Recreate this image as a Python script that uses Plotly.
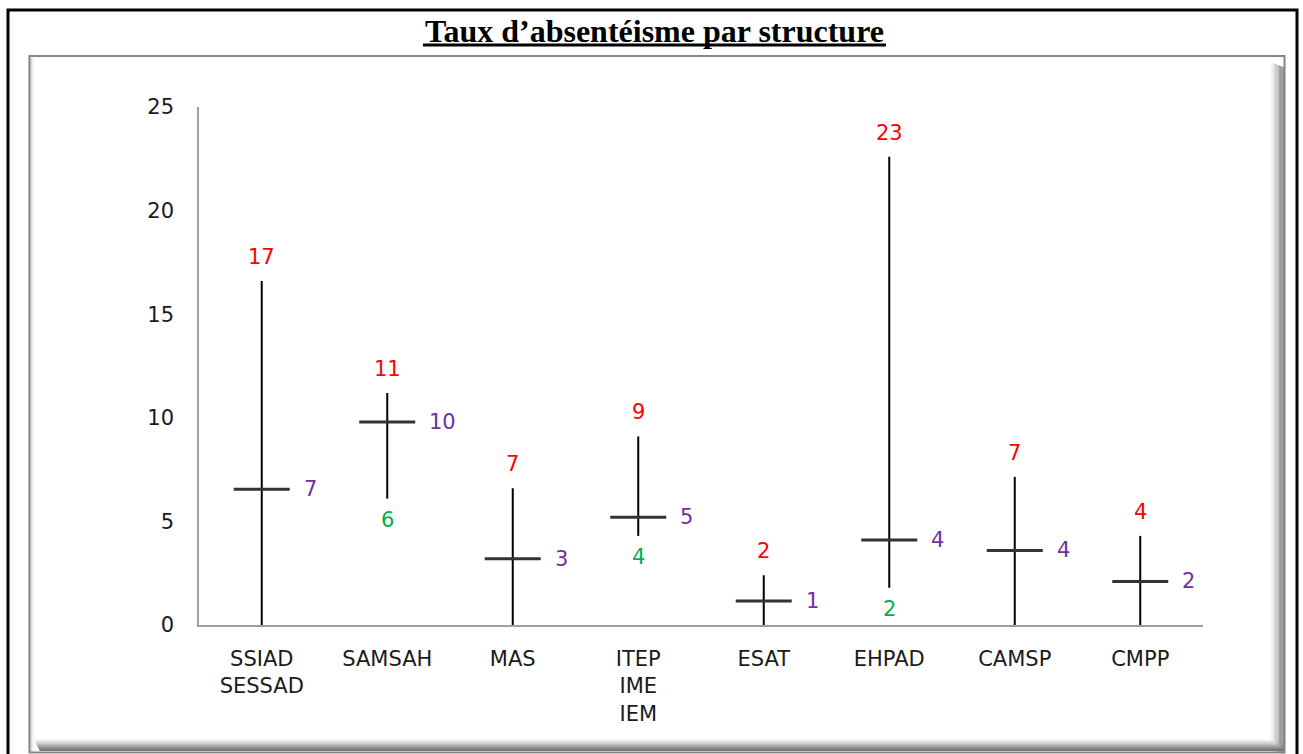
import plotly.graph_objects as go

# ---- data ----
categories = ["SSIAD<br>SESSAD", "SAMSAH", "MAS", "ITEP<br>IME<br>IEM",
              "ESAT", "EHPAD", "CAMSP", "CMPP"]
high_vals = [16.6, 11.2, 6.6, 9.1, 2.4, 22.6, 7.15, 4.3]
low_vals = [0, 6.1, 0, 4.3, 0, 1.8, 0, 0]
mean_vals = [6.55, 9.8, 3.2, 5.2, 1.16, 4.1, 3.6, 2.1]
y_ticks = [0, 5, 10, 15, 20, 25]
title_text = "Taux d’absentéisme par structure"

W, H = 1303, 754
L, R, T, B = 199, 1203, 107, 625  # plot area in pixels

def px(x):
    return (x - L) / (R - L)

def py(y):
    return (B - y) / (B - T)

FONT = "DejaVu Sans"
FS = 21
xs = list(range(len(categories)))

fig = go.Figure()

# vertical high-low lines
lx, ly = [], []
for i in xs:
    lx += [i, i, None]
    ly += [low_vals[i], high_vals[i], None]
fig.add_trace(go.Scatter(x=lx, y=ly, mode="lines",
                         line=dict(color="#000000", width=2),
                         hoverinfo="skip", showlegend=False, cliponaxis=False))

# mean ticks
fig.add_trace(go.Scatter(x=xs, y=mean_vals, mode="markers",
                         marker=dict(symbol="line-ew", size=40,
                                     line=dict(color="#333333", width=3)),
                         showlegend=False, cliponaxis=False))

annotations = []
for i in xs:
    annotations.append(dict(x=i, y=high_vals[i], xref="x", yref="y",
                            text=str(round(high_vals[i])), showarrow=False,
                            yanchor="middle", yshift=24,
                            font=dict(family=FONT, size=FS, color="#ff0000")))
    annotations.append(dict(x=i, y=mean_vals[i], xref="x", yref="y",
                            text=str(round(mean_vals[i])), showarrow=False,
                            xanchor="left", yanchor="middle", xshift=40,
                            font=dict(family=FONT, size=FS, color="#7030a0")))
    if low_vals[i] > 0:
        annotations.append(dict(x=i, y=low_vals[i], xref="x", yref="y",
                                text=str(round(low_vals[i])), showarrow=False,
                                yanchor="middle", yshift=-21,
                                font=dict(family=FONT, size=FS, color="#00b050")))

# title
annotations.append(dict(x=px(654), y=py(31), xref="paper", yref="paper",
                        xanchor="center", yanchor="middle",
                        text="<b>" + title_text + "</b>", showarrow=False,
                        font=dict(family="Liberation Serif", size=32, color="#000000")))

shapes = []
# outer black frame
shapes.append(dict(type="rect", xref="paper", yref="paper",
                   x0=px(8), x1=px(1297), y0=py(770), y1=py(10),
                   line=dict(color="#000000", width=3), layer="below"))
# title underline
shapes.append(dict(type="line", xref="paper", yref="paper",
                   x0=px(423), x1=px(886), y0=py(45), y1=py(45),
                   line=dict(color="#000000", width=3)))
# bevel panel gradient strips (right and bottom)
grads = ["#fafafa", "#f2f2f2", "#e8e8e8", "#dcdcdc", "#cfcfcf", "#c2c2c2",
         "#b4b4b4", "#a6a6a6", "#999999", "#8c8c8c", "#808080", "#767676"]
for k, c in enumerate(grads):
    shapes.append(dict(type="rect", xref="paper", yref="paper",
                       x0=px(1270 + k * 1.25), x1=px(1271.3 + k * 1.25),
                       y0=py(752), y1=py(62 + k * 0.5),
                       fillcolor=c, line=dict(width=0), layer="below"))
    shapes.append(dict(type="rect", xref="paper", yref="paper",
                       x0=px(34 + k * 0.5), x1=px(1284),
                       y0=py(740 + k * 1.0), y1=py(738.8 + k * 1.0),
                       fillcolor=c, line=dict(width=0), layer="below"))
# left light bevel
for k, c in enumerate(["#c8c8c8", "#dcdcdc", "#ececec", "#f6f6f6"]):
    shapes.append(dict(type="rect", xref="paper", yref="paper",
                       x0=px(30.5 + k), x1=px(31.5 + k), y0=py(752), y1=py(58),
                       fillcolor=c, line=dict(width=0), layer="below"))
# panel border
shapes.append(dict(type="rect", xref="paper", yref="paper",
                   x0=px(29.5), x1=px(1284.5), y0=py(752.5), y1=py(56),
                   line=dict(color="#858585", width=2), layer="below"))

fig.update_layout(
    width=W, height=H,
    margin=dict(l=L, r=W - R, t=T, b=H - B, pad=0),
    paper_bgcolor="#ffffff", plot_bgcolor="rgba(0,0,0,0)",
    showlegend=False,
    annotations=annotations, shapes=shapes,
    xaxis=dict(range=[-0.5, len(categories) - 0.5], tickmode="array",
               tickvals=xs, ticktext=categories, showgrid=False, zeroline=False,
               showline=True, linecolor="#a0a0a0", linewidth=1.5, ticks="",
               ticklabelstandoff=14,
               tickfont=dict(family=FONT, size=FS, color="#1a1a1a")),
    yaxis=dict(range=[0, 25], tickmode="array", tickvals=y_ticks,
               showgrid=False, zeroline=False, showline=True,
               linecolor="#a0a0a0", linewidth=1.5, ticks="",
               ticklabelstandoff=19,
               tickfont=dict(family=FONT, size=FS, color="#1a1a1a")),
)

fig.write_html("out.html", config={"displayModeBar": False},
               post_script="document.body.style.margin='0';document.body.style.overflow='hidden';")
